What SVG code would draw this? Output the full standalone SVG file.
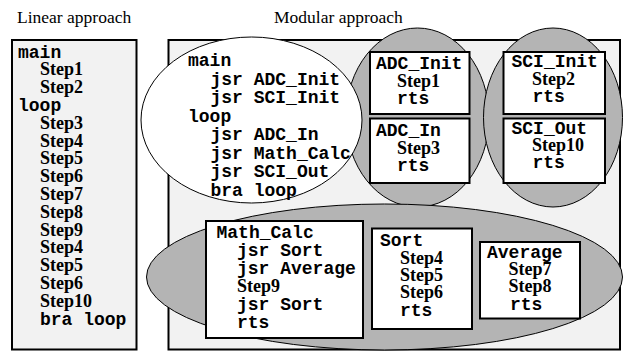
<svg xmlns="http://www.w3.org/2000/svg" width="623" height="352" viewBox="0 0 623 352">
<style>
.lbl{font-family:"Liberation Serif","Times New Roman",serif;font-size:17.5px;fill:#000}
.m{font-family:"Liberation Mono","Courier New",monospace;font-weight:bold;font-size:18px;fill:#000}
.s{font-family:"Liberation Serif","Times New Roman",serif;font-weight:bold;font-size:18px;fill:#000}
.panel{fill:#f2f2f2;stroke:#000;stroke-width:2}
.box{fill:#fff;stroke:#000;stroke-width:2}
.grey{fill:#b4b4b4;stroke:#000;stroke-width:1}
.white{fill:#fff;stroke:#000;stroke-width:1}
</style>
<rect width="623" height="352" fill="#fff"/>
<text class="lbl" x="17" y="23">Linear approach</text>
<text class="lbl" x="274" y="23">Modular approach</text>

<g id="linear">
<rect class="panel" x="12" y="40" width="124.5" height="309.5"/>
<text class="m" x="18" y="57.5">main</text>
<text class="s" x="40" y="75.3">Step1</text>
<text class="s" x="40" y="93.1">Step2</text>
<text class="m" x="18" y="110.9">loop</text>
<text class="s" x="40" y="128.7">Step3</text>
<text class="s" x="40" y="146.5">Step4</text>
<text class="s" x="40" y="164.3">Step5</text>
<text class="s" x="40" y="182.1">Step6</text>
<text class="s" x="40" y="199.9">Step7</text>
<text class="s" x="40" y="217.7">Step8</text>
<text class="s" x="40" y="235.5">Step9</text>
<text class="s" x="40" y="253.3">Step4</text>
<text class="s" x="40" y="271.1">Step5</text>
<text class="s" x="40" y="288.9">Step6</text>
<text class="s" x="40" y="306.7">Step10</text>
<text class="m" x="40" y="324.5">bra loop</text>
</g>

<g id="modular">
<rect class="panel" x="168.5" y="40" width="451.5" height="309.5"/>
</g>

<g id="adc-group">
<ellipse class="grey" cx="417.5" cy="117.5" rx="71.5" ry="89.5"/>
</g>
<g id="sci-group">
<ellipse class="grey" cx="553" cy="117.5" rx="69.5" ry="89.5"/>
</g>
<g id="calc-group">
<ellipse class="grey" cx="384.5" cy="277" rx="238" ry="73"/>
</g>

<g id="main">
<ellipse class="white" cx="251.5" cy="120" rx="110.5" ry="83"/>
<text class="m" x="188" y="66">main</text>
<text class="m" x="210.5" y="84.5">jsr ADC_Init</text>
<text class="m" x="210.5" y="103">jsr SCI_Init</text>
<text class="m" x="188" y="121.5">loop</text>
<text class="m" x="210.5" y="140">jsr ADC_In</text>
<text class="m" x="210.5" y="158.5">jsr Math_Calc</text>
<text class="m" x="210.5" y="177">jsr SCI_Out</text>
<text class="m" x="210.5" y="195.5">bra loop</text>
</g>

<g id="adc-init">
<rect class="box" x="370" y="52" width="99.5" height="62"/>
<text class="m" x="376" y="69">ADC_Init</text>
<text class="s" x="397" y="86.5">Step1</text>
<text class="m" x="397" y="104">rts</text>
</g>
<g id="adc-in">
<rect class="box" x="370" y="118.5" width="99.5" height="64.5"/>
<text class="m" x="376" y="136">ADC_In</text>
<text class="s" x="397" y="153.5">Step3</text>
<text class="m" x="397" y="171">rts</text>
</g>
<g id="sci-init">
<rect class="box" x="503.5" y="52" width="101.5" height="62"/>
<text class="m" x="511.5" y="67">SCI_Init</text>
<text class="s" x="532" y="84.5">Step2</text>
<text class="m" x="532.5" y="102">rts</text>
</g>
<g id="sci-out">
<rect class="box" x="503.5" y="118.5" width="101.5" height="64.5"/>
<text class="m" x="511.5" y="133.5">SCI_Out</text>
<text class="s" x="532" y="151">Step10</text>
<text class="m" x="532.5" y="168">rts</text>
</g>

<g id="math-calc">
<rect class="box" x="206" y="221" width="157" height="117"/>
<text class="m" x="216.5" y="238">Math_Calc</text>
<text class="m" x="237" y="256">jsr Sort</text>
<text class="m" x="237" y="274">jsr Average</text>
<text class="s" x="237" y="292">Step9</text>
<text class="m" x="237" y="310">jsr Sort</text>
<text class="m" x="237" y="328">rts</text>
</g>
<g id="sort">
<rect class="box" x="372" y="228.5" width="100" height="100.5"/>
<text class="m" x="380" y="246">Sort</text>
<text class="s" x="400" y="264">Step4</text>
<text class="s" x="400" y="281">Step5</text>
<text class="s" x="400" y="298">Step6</text>
<text class="m" x="400" y="316">rts</text>
</g>
<g id="average">
<rect class="box" x="480" y="242" width="100" height="76.5"/>
<text class="m" x="487" y="258">Average</text>
<text class="s" x="508.5" y="275">Step7</text>
<text class="s" x="508.5" y="292">Step8</text>
<text class="m" x="510" y="310">rts</text>
</g>

<g id="connectors"></g>
</svg>
